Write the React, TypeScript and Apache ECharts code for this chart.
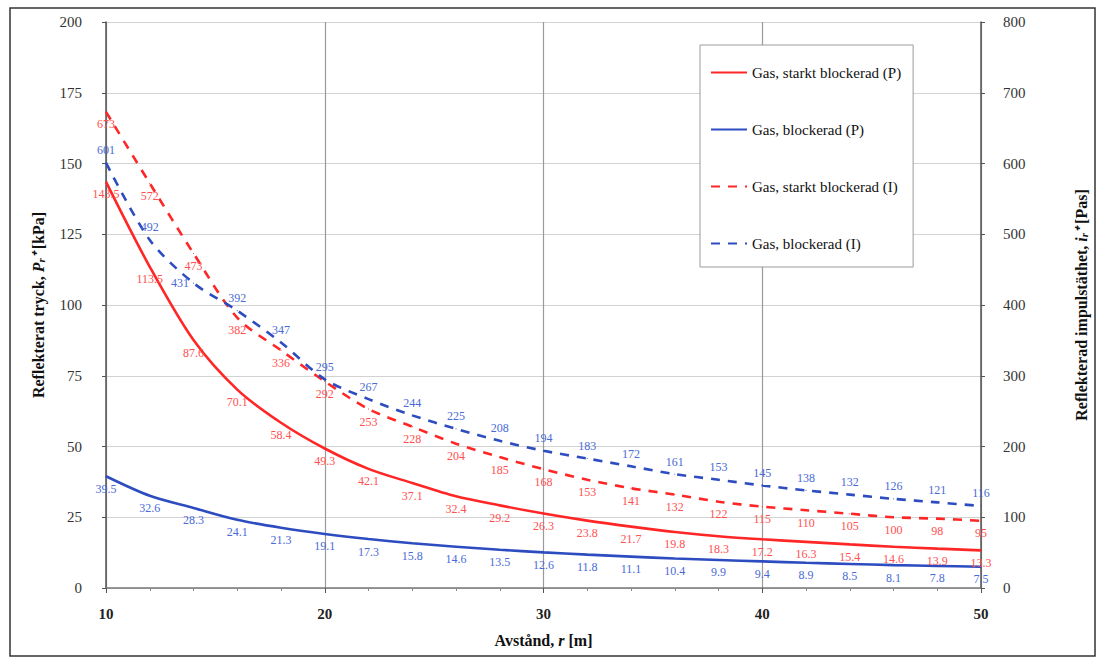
import React, { useEffect, useRef } from "react";
import * as echarts from "echarts";

const distances = [10, 12, 14, 16, 18, 20, 22, 24, 26, 28, 30, 32, 34, 36, 38, 40, 42, 44, 46, 48, 50];
const pStarkt = [143.5, 113.5, 87.6, 70.1, 58.4, 49.3, 42.1, 37.1, 32.4, 29.2, 26.3, 23.8, 21.7, 19.8, 18.3, 17.2, 16.3, 15.4, 14.6, 13.9, 13.3];
const pBlock = [39.5, 32.6, 28.3, 24.1, 21.3, 19.1, 17.3, 15.8, 14.6, 13.5, 12.6, 11.8, 11.1, 10.4, 9.9, 9.4, 8.9, 8.5, 8.1, 7.8, 7.5];
const iStarkt = [673, 572, 473, 382, 336, 292, 253, 228, 204, 185, 168, 153, 141, 132, 122, 115, 110, 105, 100, 98, 95];
const iBlock = [601, 492, 431, 392, 347, 295, 267, 244, 225, 208, 194, 183, 172, 161, 153, 145, 138, 132, 126, 121, 116];
const seriesNames = [
  "Gas, starkt blockerad (P)",
  "Gas, blockerad (P)",
  "Gas, starkt blockerad (I)",
  "Gas, blockerad (I)",
];
const xTicks = { min: 10, max: 50, interval: 10 };
const leftTicks = { min: 0, max: 200, interval: 25 };
const rightTicks = { min: 0, max: 800, interval: 100 };

const FONT = "Liberation Serif";
const RED = "#ff2626";
const BLUE = "#2d4cc0";
const RED_LBL = "#ff5050";
const BLUE_LBL = "#4a6ad8";

export default function App() {
  const ref = useRef<HTMLDivElement>(null);
  useEffect(() => {
    document.body.style.margin = "0";
    const chart = echarts.init(ref.current!, null, { renderer: "svg" });
    const mkSeries = (
      name: string,
      vals: number[],
      color: string,
      lblColor: string,
      dashed: boolean,
      yAxisIndex: number,
      pos: string,
      digits: number,
      leftIdx: number[] = []
    ) => ({
      name,
      type: "line",
      yAxisIndex,
      data: distances.map((d, i) =>
        leftIdx.includes(i)
          ? { value: [d, vals[i]], label: { position: "left", distance: 4 } }
          : { value: [d, vals[i]] }
      ),
      smooth: 0.3,
      symbol: "circle",
      symbolSize: 1,
      showSymbol: true,
      lineStyle: { color, width: 2.6, type: dashed ? [9, 8] : "solid" },
      itemStyle: { color },
      label: {
        show: true,
        position: pos,
        distance: 6,
        color: lblColor,
        fontFamily: FONT,
        fontSize: 12,
        formatter: (p: any) => (digits ? p.value[1].toFixed(digits) : String(p.value[1])),
      },
    });
    chart.setOption({
      animation: false,
      backgroundColor: "#ffffff",
      textStyle: { fontFamily: FONT },
      grid: { left: 106, right: 118, top: 22, bottom: 72 },
      legend: {
        orient: "vertical",
        left: 700,
        top: 45,
        itemWidth: 36,
        itemHeight: 14,
        itemGap: 42,
        padding: [20, 12, 16, 10],
        backgroundColor: "#ffffff",
        borderColor: "#9a9a9a",
        borderWidth: 1,
        itemStyle: { opacity: 0 },
        textStyle: { fontFamily: FONT, fontSize: 15, color: "#111" },
        data: seriesNames,
      },
      xAxis: {
        type: "value",
        ...xTicks,
        name: "Avstånd, {i|r} [m]",
        nameLocation: "middle",
        nameGap: 44,
        nameTextStyle: {
          fontFamily: FONT,
          fontSize: 16,
          fontWeight: "bold",
          color: "#111",
          rich: { i: { fontFamily: FONT, fontSize: 16, fontWeight: "bold", fontStyle: "italic", color: "#111" } },
        },
        axisLine: { lineStyle: { color: "#777", width: 1.5 } },
        axisTick: { show: true, length: 5, lineStyle: { color: "#555" } },
        minorTick: { show: true, splitNumber: 5, length: 3, lineStyle: { color: "#888" } },
        axisLabel: { fontFamily: FONT, fontSize: 15, fontWeight: "bold", color: "#222", margin: 18 },
        splitLine: { show: true, lineStyle: { color: "#9a9a9a", width: 1.2 } },
      },
      yAxis: [
        {
          type: "value",
          ...leftTicks,
          position: "left",
          name: "Reflekterat tryck, {i|P}{s|r}{i|⁺} [kPa]",
          nameLocation: "middle",
          nameRotate: 90,
          nameGap: 60,
          nameTextStyle: {
            fontFamily: FONT,
            fontSize: 16,
            fontWeight: "bold",
            color: "#111",
            rich: {
              i: { fontFamily: FONT, fontSize: 16, fontWeight: "bold", fontStyle: "italic", color: "#111" },
              s: { fontFamily: FONT, fontSize: 11, fontWeight: "bold", fontStyle: "italic", color: "#111", verticalAlign: "bottom" },
            },
          },
          axisLine: { show: true, lineStyle: { color: "#555", width: 1.5 } },
          axisTick: { show: true, length: 4, lineStyle: { color: "#555" } },
          axisLabel: { fontFamily: FONT, fontSize: 15, color: "#333", margin: 24 },
          splitLine: { show: true, lineStyle: { color: "#d2d2d2", width: 1.2 } },
        },
        {
          type: "value",
          ...rightTicks,
          position: "right",
          name: "Reflekterad impulstäthet, {i|i}{s|r}{i|⁺} [Pas]",
          nameLocation: "middle",
          nameRotate: 90,
          nameGap: 92,
          nameTextStyle: {
            fontFamily: FONT,
            fontSize: 16,
            fontWeight: "bold",
            color: "#111",
            rich: {
              i: { fontFamily: FONT, fontSize: 16, fontWeight: "bold", fontStyle: "italic", color: "#111" },
              s: { fontFamily: FONT, fontSize: 11, fontWeight: "bold", fontStyle: "italic", color: "#111", verticalAlign: "bottom" },
            },
          },
          axisLine: { show: true, lineStyle: { color: "#555", width: 1.5 } },
          axisTick: { show: true, length: 4, lineStyle: { color: "#555" } },
          axisLabel: { fontFamily: FONT, fontSize: 15, color: "#333", margin: 22 },
          splitLine: { show: false },
        },
      ],
      graphic: [
        {
          type: "rect",
          shape: { x: 10, y: 8, width: 1085, height: 648 },
          style: { fill: "none", stroke: "#333", lineWidth: 1.5 },
          silent: true,
          z: 100,
        },
      ],
      series: [
        mkSeries(seriesNames[0], pStarkt, RED, RED_LBL, false, 0, "bottom", 1),
        mkSeries(seriesNames[1], pBlock, BLUE, BLUE_LBL, false, 0, "bottom", 1),
        mkSeries(seriesNames[2], iStarkt, RED, RED_LBL, true, 1, "bottom", 0),
        mkSeries(seriesNames[3], iBlock, BLUE, BLUE_LBL, true, 1, "top", 0, [2]),
      ],
    });
    return () => chart.dispose();
  }, []);
  return <div ref={ref} style={{ width: 1099, height: 660 }} />;
}
